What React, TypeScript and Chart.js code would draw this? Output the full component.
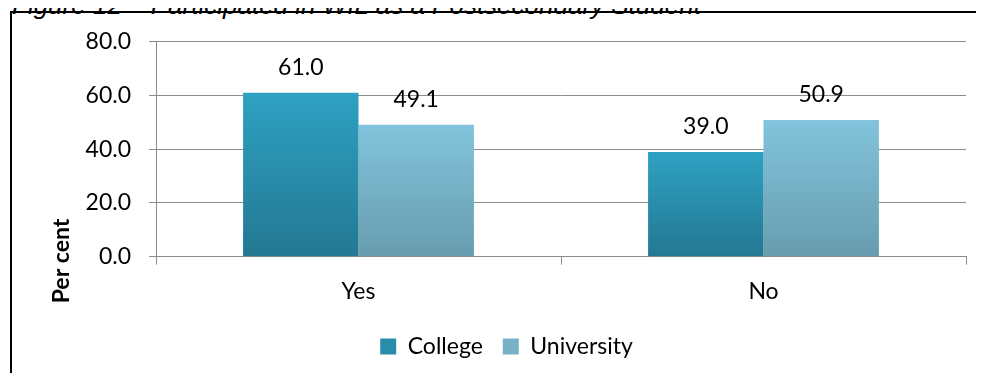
import React, { useEffect, useRef } from "react";
import { Chart, registerables } from "chart.js";

Chart.register(...registerables);

// ---- data ----
const figureTitle = "Figure 12 – Participated in WIL as a Postsecondary Student";
const categories = ["Yes", "No"];
const seriesNames = ["College", "University"];
const collegeValues = [61.0, 39.0];
const universityValues = [49.1, 50.9];
const yTickValues = [0, 20, 40, 60, 80];
const yAxisTitle = "Per cent";

// ---- styles ----
const FONT = "Lato, 'Open Sans', sans-serif";
const GRID = "#8c8c8c";
const COLLEGE_TOP = "#2ea1c2";
const COLLEGE_BOTTOM = "#237892";
const UNI_TOP = "#82c4dc";
const UNI_BOTTOM = "#689caf";

function gradientFill(top: string, bottom: string, solid: string) {
  return (c: any) => {
    const chart = c.chart;
    const { ctx, chartArea, scales } = chart;
    if (!chartArea || !scales || !scales.y || c.type !== "data") return solid;
    const v = c.raw as number;
    const y0 = scales.y.getPixelForValue(v);
    const y1 = scales.y.getPixelForValue(0);
    if (!isFinite(y0) || !isFinite(y1) || y0 === y1) return solid;
    const g = ctx.createLinearGradient(0, y0, 0, y1);
    g.addColorStop(0, top);
    g.addColorStop(1, bottom);
    return g;
  };
}

const valueLabels = {
  id: "valueLabels",
  afterDatasetsDraw(chart: any) {
    const ctx = chart.ctx;
    ctx.save();
    ctx.font = `23px ${FONT}`;
    ctx.fillStyle = "#000";
    ctx.textAlign = "center";
    ctx.textBaseline = "middle";
    chart.data.datasets.forEach((ds: any, i: number) => {
      chart.getDatasetMeta(i).data.forEach((bar: any, j: number) => {
        ctx.fillText(Number(ds.data[j]).toFixed(1), bar.x, bar.y - 25);
      });
    });
    ctx.restore();
  },
};

const yTitlePlugin = {
  id: "yTitle",
  afterDraw(chart: any) {
    const ctx = chart.ctx;
    ctx.save();
    ctx.translate(62, 261);
    ctx.rotate(-Math.PI / 2);
    ctx.font = `bold 23px ${FONT}`;
    ctx.fillStyle = "#000";
    ctx.textAlign = "center";
    ctx.textBaseline = "middle";
    ctx.fillText(yAxisTitle, 0, 0);
    ctx.restore();
  },
};

export default function App() {
  const ref = useRef<HTMLCanvasElement | null>(null);

  useEffect(() => {
    if (!ref.current) return;
    const chart = new Chart(ref.current, {
      type: "bar",
      data: {
        labels: categories,
        datasets: [
          {
            label: seriesNames[0],
            data: collegeValues,
            backgroundColor: gradientFill(COLLEGE_TOP, COLLEGE_BOTTOM, "#2a8cab"),
            borderWidth: 0,
            categoryPercentage: 0.57,
            barPercentage: 1.0,
          },
          {
            label: seriesNames[1],
            data: universityValues,
            backgroundColor: gradientFill(UNI_TOP, UNI_BOTTOM, "#76b1c7"),
            borderWidth: 0,
            categoryPercentage: 0.57,
            barPercentage: 1.0,
          },
        ],
      },
      options: {
        animation: false,
        responsive: false,
        maintainAspectRatio: false,
        layout: { padding: { left: 47, right: 18, top: 41.7, bottom: 13 } },
        scales: {
          x: {
            type: "category",
            grid: {
              offset: true,
              drawOnChartArea: false,
              drawTicks: true,
              tickLength: 8,
              color: GRID,
              lineWidth: 1,
            },
            border: { display: true, color: GRID, width: 1 },
            ticks: {
              font: { family: FONT, size: 23 },
              color: "#000",
              padding: 13,
              maxRotation: 0,
            },
            afterFit: (s: any) => {
              s.height = 58.3;
            },
          },
          y: {
            min: 0,
            max: 80,
            afterBuildTicks: (s: any) => {
              s.ticks = yTickValues.map((v) => ({ value: v }));
            },
            grid: {
              color: GRID,
              lineWidth: 1,
              drawTicks: true,
              tickLength: 7,
            },
            border: { display: true, color: GRID, width: 1 },
            ticks: {
              font: { family: FONT, size: 23 },
              color: "#000",
              padding: 18,
              callback: (v: any) => Number(v).toFixed(1),
            },
            afterFit: (s: any) => {
              s.width = 109;
            },
          },
        },
        plugins: {
          legend: {
            position: "bottom",
            labels: {
              boxWidth: 16,
              boxHeight: 16,
              padding: 20,
              color: "#000",
              font: { family: FONT, size: 23 },
              generateLabels: () => [
                { text: seriesNames[0], fillStyle: "#2a8cab", strokeStyle: "rgba(0,0,0,0)", lineWidth: 0, datasetIndex: 0, hidden: false },
                { text: seriesNames[1], fillStyle: "#76b1c7", strokeStyle: "rgba(0,0,0,0)", lineWidth: 0, datasetIndex: 1, hidden: false },
              ],
            },
          },
          tooltip: { enabled: false },
          title: { display: false },
        },
      },
      plugins: [valueLabels, yTitlePlugin],
    });
    return () => chart.destroy();
  }, []);

  return (
    <div
      style={{
        position: "relative",
        margin: -8,
        width: 984,
        height: 381,
        overflow: "hidden",
        background: "#fff",
      }}
    >
      <div
        style={{
          position: "absolute",
          left: 12,
          top: -8.5,
          font: "italic 26px 'Liberation Sans', Arial, sans-serif",
          lineHeight: "26px",
          whiteSpace: "nowrap",
          color: "#000",
        }}
      >
        {figureTitle}
      </div>
      <div
        style={{
          position: "absolute",
          left: 10,
          top: 11,
          width: 1000,
          height: 400,
          borderLeft: "2px solid #000",
          borderTop: "2px solid #000",
        }}
      />
      <canvas
        ref={ref}
        width={984}
        height={381}
        style={{ position: "absolute", left: 0, top: 0, width: 984, height: 381 }}
      />
    </div>
  );
}
